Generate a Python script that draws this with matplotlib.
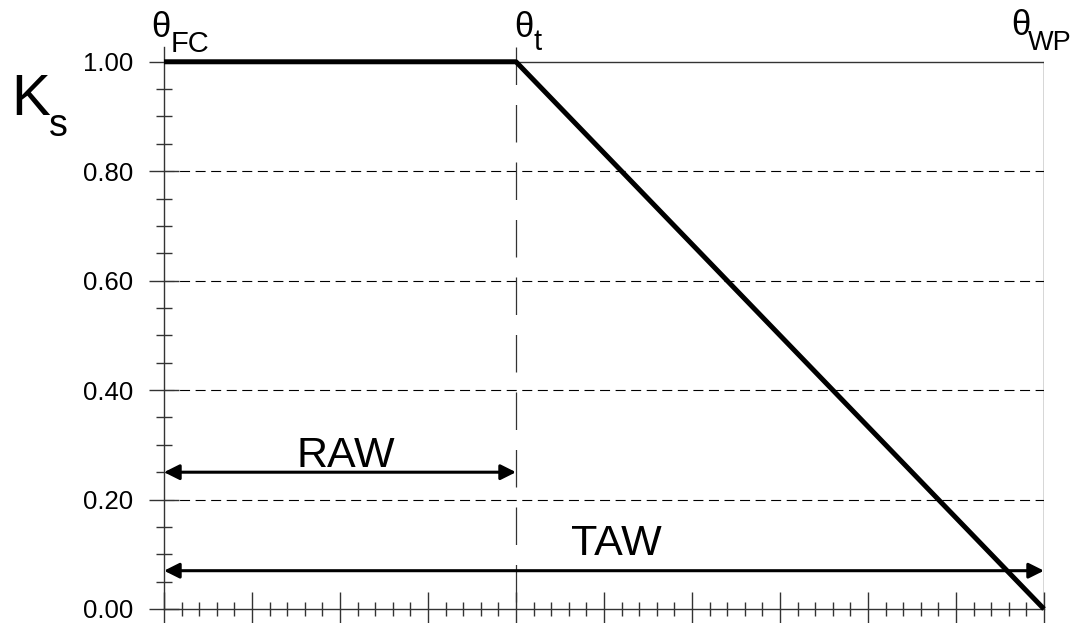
import numpy as np
import matplotlib.pyplot as plt

plt.rcParams['font.family'] = ['Liberation Sans', 'DejaVu Sans']

# soil water depletion (0 = field capacity, 10 = wilting point)
depletion = [0, 4, 10]
ks_values = [1.0, 1.0, 0.0]

raw_end = 4
taw_end = 10
raw_y = 0.25
taw_y = 0.07

y_ticks = [0.0, 0.2, 0.4, 0.6, 0.8, 1.0]
y_labels = ["0.00", "0.20", "0.40", "0.60", "0.80", "1.00"]
grid_levels = [0.2, 0.4, 0.6, 0.8]

W, H = 1073, 623
fig = plt.figure(figsize=(W / 100, H / 100), dpi=100)
ax = fig.add_axes([164 / W, 1 - 609 / H, (1044 - 164) / W, (609 - 47) / H])

ax.set_xlim(0, 10)
ax.set_ylim(0, 1.027)

# dashed horizontal grid
for g in grid_levels:
    ax.plot([0, 10], [g, g], color='black', lw=0.8, linestyle=(0, (9, 5)), zorder=1)

# frame top / right
ax.plot([raw_end, taw_end], [1, 1], color='#333333', lw=1.0, zorder=1)
ax.plot([taw_end, taw_end], [0, 1], color='#333333', lw=1.0, zorder=1)

# theta_t vertical dashed line
ax.plot([raw_end, raw_end], [1.027, 0], color='#333333', lw=0.9,
        linestyle=(0, (30, 16)), zorder=1, clip_on=False)

# Ks curve
ax.plot(depletion, ks_values, color='black', lw=3.6, solid_capstyle='butt', zorder=3, clip_on=False)

# RAW / TAW arrows
ax.annotate('', xy=(0, raw_y), xytext=(raw_end, raw_y),
            arrowprops=dict(arrowstyle='<|-|>', lw=2.2, color='black',
                            mutation_scale=23, shrinkA=0, shrinkB=0), zorder=4)
ax.annotate('', xy=(0, taw_y), xytext=(taw_end, taw_y),
            arrowprops=dict(arrowstyle='<|-|>', lw=2.2, color='black',
                            mutation_scale=23, shrinkA=0, shrinkB=0), zorder=4)
ax.text(2.07, 0.26, 'RAW', fontsize=31, ha='center', va='baseline')
ax.text(5.14, 0.099, 'TAW', fontsize=31, ha='center', va='baseline')

# spines
for s in ['top', 'right']:
    ax.spines[s].set_visible(False)
for s in ['left', 'bottom']:
    ax.spines[s].set_linewidth(1.0)
    ax.spines[s].set_color('#333333')

ax.set_yticks(y_ticks)
ax.set_yticklabels(y_labels)
ax.set_yticks(np.arange(0, 1.001, 0.05), minor=True)
ax.set_xticks(np.arange(0, 10.01, 1))
ax.set_xticklabels([])
ax.set_xticks(np.arange(0, 10.01, 0.2), minor=True)

ax.tick_params(axis='y', which='major', direction='inout', length=22, width=1.0,
               labelsize=18.5, pad=11, color='#333333')
ax.tick_params(axis='y', which='minor', direction='inout', length=11, width=1.0, color='#333333')
ax.tick_params(axis='x', which='major', direction='inout', length=24, width=1.0, color='#333333')
ax.tick_params(axis='x', which='minor', direction='inout', length=10, width=1.0, color='#333333')
for t in ax.xaxis.get_major_ticks() + ax.xaxis.get_minor_ticks() + \
         ax.yaxis.get_major_ticks() + ax.yaxis.get_minor_ticks():
    t.tick1line.set_clip_on(False)

# labels (pixel positions)
def ftext(px, py, s, size):
    fig.text(px / W, 1 - py / H, s, fontsize=size, ha='left', va='baseline')

ftext(11, 115, 'K', 42)
ftext(49, 136, 's', 27)
ftext(151, 37, 'θ', 25)
ftext(171, 52, 'FC', 21)
ftext(514, 37, 'θ', 25)
ftext(534, 50, 't', 21)
ftext(1011, 35, 'θ', 25)
ftext(1028, 50, 'WP', 19.5)

fig.savefig('out.png', dpi=100)
